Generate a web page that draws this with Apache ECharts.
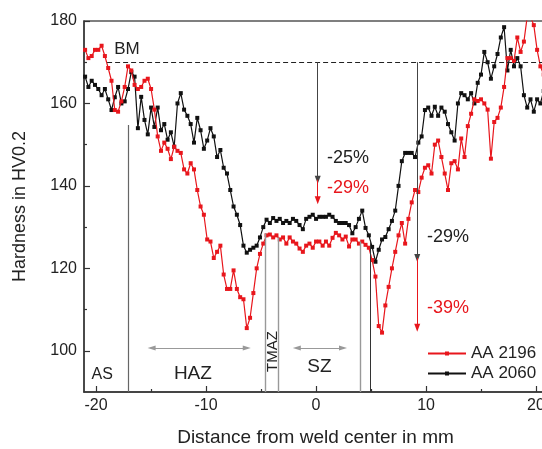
<!DOCTYPE html>
<html><head><meta charset="utf-8">
<script src="https://cdn.jsdelivr.net/npm/echarts@6/dist/echarts.min.js"></script>
<style>html,body{margin:0;padding:0;background:#fff}#c{width:542px;height:449px}</style>
</head><body><div id="c"></div>
<script>
// Distance from weld center (mm)
const distance = [
 -21.0,-20.7,-20.4,-20.1,-19.8,-19.5,-19.2,-18.9,-18.6,-18.3,
 -18.0,-17.7,-17.4,-17.1,-16.8,-16.5,-16.2,-15.9,-15.6,-15.3,
 -15.0,-14.7,-14.4,-14.1,-13.8,-13.5,-13.2,-12.9,-12.6,-12.3,
 -12.0,-11.7,-11.4,-11.1,-10.8,-10.5,-10.2,-9.9,-9.6,-9.3,
 -9.0,-8.7,-8.4,-8.1,-7.8,-7.5,-7.2,-6.9,-6.6,-6.3,
 -6.0,-5.7,-5.4,-5.1,-4.8,-4.5,-4.2,-3.9,-3.6,-3.3,
 -3.0,-2.7,-2.4,-2.1,-1.8,-1.5,-1.2,-0.9,-0.6,-0.3,
 0.0,0.3,0.6,0.9,1.2,1.5,1.8,2.1,2.4,2.7,
 3.0,3.3,3.6,3.9,4.2,4.5,4.8,5.1,5.4,5.7,
 6.0,6.3,6.6,6.9,7.2,7.5,7.8,8.1,8.4,8.7,
 9.0,9.3,9.6,9.9,10.2,10.5,10.8,11.1,11.4,11.7,
 12.0,12.3,12.6,12.9,13.2,13.5,13.8,14.1,14.4,14.7,
 15.0,15.3,15.6,15.9,16.2,16.5,16.8,17.1,17.4,17.7,
 18.0,18.3,18.6,18.9,19.2,19.5,19.8,20.1,20.4,20.7,
 21.0
];
// Hardness HV0.2, AA 2060 (black)
const aa2060 = [
 166.5,164,165.5,164.5,163.5,162,163.5,161,158.4,161.5,
 164,160,160.5,163.5,167.6,166.5,154,161.6,156,152.5,
 159,154.3,159,153.5,155,151.2,153,149.5,160,162.5,
 158.5,157,155,150.5,156.5,153.5,149,151,154,152,
 147,148.7,144.4,143,139,135,133,130.5,125.5,123.8,
 124.5,125,125.5,127.5,130,131.8,131,132.2,131.5,132,
 131,131.5,131,132,131.5,130.5,129.5,132,132.5,133,
 132,132.5,132.5,132.5,133,132.5,131.5,131,131,131,
 130.5,128.5,130,132,134,129.8,128,125.2,121.6,124.5,
 127,127.6,129.5,131.5,134,140,146,148,148,148,
 147,150.5,152,158.4,159,157,159.2,157,159,158,
 155,153,151,160,162.5,162,161,162.5,160,165,
 167,172.5,170,166,169,172,176,178.5,168,173,
 169,171,169,162,159,161,158,161,160,163,
 162
];
// Hardness HV0.2, AA 2196 (red)
const aa2196 = [
 173,171,171.5,173,173,174,171.5,168.6,165.5,158.4,
 158,160.5,164,169,168,164.5,163.5,164,165.5,166,
 163.5,158.5,152,148.5,150.5,149,146.5,149.5,148.5,148,
 144,143,145.5,144,139,135,133,127,126.5,122.5,
 124,125.5,118.5,115,115,119.5,115,113,112.5,105.5,
 108,114,120,123.5,126,128,128.2,127.5,128,127,
 127.5,126,127.5,126.5,126,124.8,124,125.5,126,125,
 126.5,126.5,125.5,126.5,125.5,127.4,128.6,128,127,127.7,
 125.3,127,127,126,126.5,125.7,125,122,118,106,
 104.4,111,115.5,120,124,128,131,126,132,136,
 139,138.5,142,144.4,145,143,150,151,147,143,
 139,145.5,146,144,151.5,147,154.5,157.5,161,160.6,
 161,160,158.5,146.6,155.5,156.5,159,164,171,171,
 170.3,176,172.5,175,181,181,179,173,169,167,
 168
];
const seriesNames = ['AA 2196', 'AA 2060'];
const xTickLabels = [-20, -10, 0, 10, 20];
const xMinorTicks = [-15, -5, 5, 15];
const yTickLabels = [100, 120, 140, 160, 180];
const yMinorTicks = [110, 130, 150, 170];
const baseMetal = 170;
const zoneBoundaries = [-17.1, -4.6, -3.4, 4.0, 4.9];
const dropPositions = [0.15, 9.2];
const dropLabels2060 = ['-25%', '-29%'];
const dropLabels2196 = ['-29%', '-39%'];

const RED = '#e8161c', BLACK = '#111111';
const FONT = '"Liberation Sans", Arial, Helvetica, sans-serif';

const chart = echarts.init(document.getElementById('c'), null, {renderer: 'canvas'});

function vline(x, y0, y1, color, width) {
  return [{coord: [x, y0], lineStyle: {color: color, width: width, type: 'solid'}}, {coord: [x, y1]}];
}

const option = {
  animation: false,
  backgroundColor: '#fff',
  textStyle: {fontFamily: FONT},
  grid: {left: 84, top: 21, right: -5, bottom: 57, show: true, borderColor: '#555', borderWidth: 1.3,
         containLabel: false, outerBoundsMode: 'none'},
  xAxis: [{
    type: 'value', min: -21.1, max: 21.0, position: 'bottom',
    name: 'Distance from weld center in mm', nameLocation: 'middle', nameGap: 36,
    nameTextStyle: {fontSize: 19, color: '#222', fontFamily: FONT},
    axisLine: {show: true, onZero: false, lineStyle: {color: '#333', width: 1.5}},
    axisTick: {show: true, inside: true, length: 6, customValues: xTickLabels, lineStyle: {color: '#333', width: 1.2}},
    axisLabel: {show: true, customValues: xTickLabels, fontSize: 16, color: '#222', margin: 6, fontFamily: FONT},
    splitLine: {show: false}
  }, {
    type: 'value', min: -21.1, max: 21.0, position: 'bottom', gridIndex: 0,
    axisLine: {show: false, onZero: false},
    axisTick: {show: true, inside: true, length: 3, customValues: xMinorTicks, lineStyle: {color: '#333', width: 1.2}},
    axisLabel: {show: false}, splitLine: {show: false}
  }],
  yAxis: [{
    type: 'value', min: 90, max: 180, position: 'left',
    name: 'Hardness in HV0.2', nameLocation: 'middle', nameGap: 55, nameRotate: 90,
    nameTextStyle: {fontSize: 18, color: '#222', fontFamily: FONT},
    axisLine: {show: true, onZero: false, lineStyle: {color: '#333', width: 1.5}},
    axisTick: {show: true, inside: true, length: 6, customValues: yTickLabels, lineStyle: {color: '#333', width: 1.2}},
    axisLabel: {show: true, customValues: yTickLabels, fontSize: 16, color: '#222', margin: 7, fontFamily: FONT},
    splitLine: {show: false}
  }, {
    type: 'value', min: 90, max: 180, position: 'left',
    axisLine: {show: false, onZero: false},
    axisTick: {show: true, inside: true, length: 3, customValues: yMinorTicks, lineStyle: {color: '#333', width: 1.2}},
    axisLabel: {show: false}, splitLine: {show: false}
  }],
  legend: {
    data: seriesNames, orient: 'vertical', left: 422, top: 340,
    itemWidth: 38, itemHeight: 5, itemGap: 3,
    textStyle: {fontSize: 17, color: '#222', fontFamily: FONT, lineHeight: 16}
  },
  series: [
    {
      name: 'annotLines', type: 'line', data: [], silent: true,
      markLine: {
        silent: true, animation: false, symbol: ['none', 'none'], label: {show: false},
        data: [
          vline(zoneBoundaries[0], 90, 154.8, '#666', 1.2),
          vline(zoneBoundaries[1], 90, 128.5, '#999', 1.4),
          vline(zoneBoundaries[2], 90, 127.5, '#999', 1.4),
          vline(zoneBoundaries[3], 90, 126.5, '#999', 1.4),
          vline(zoneBoundaries[4], 90, 126.5, '#333', 1.0),
          [{coord: [-19.0, baseMetal], lineStyle: {color: '#222', width: 1, type: [5, 3]}}, {coord: [21.0, baseMetal]}]
        ]
      }
    },
    {
      name: 'AA 2060', type: 'line', color: BLACK,
      data: distance.map((d, i) => [d, aa2060[i]]),
      symbol: 'rect', symbolSize: 4, showSymbol: true, showAllSymbol: true,
      lineStyle: {color: BLACK, width: 1.2}, itemStyle: {color: BLACK},
      clip: true, z: 3
    },
    {
      name: 'AA 2196', type: 'line', color: RED,
      data: distance.map((d, i) => [d, aa2196[i]]),
      symbol: 'rect', symbolSize: 4, showSymbol: true, showAllSymbol: true,
      lineStyle: {color: RED, width: 1.2}, itemStyle: {color: RED},
      clip: true, z: 4
    },
    {
      name: 'arrowsBlack', type: 'line', data: [], silent: true,
      markLine: {
        silent: true, animation: false, symbol: ['none', 'triangle'], symbolSize: [6, 8], label: {show: false},
        lineStyle: {color: '#444', width: 1, type: 'solid'}, itemStyle: {color: '#222'},
        data: [
          [{coord: [dropPositions[0], baseMetal]}, {coord: [dropPositions[0], 141.5]}],
          [{coord: [dropPositions[1], baseMetal]}, {coord: [dropPositions[1], 122.5]}]
        ]
      }
    },
    {
      name: 'arrowsRed', type: 'line', data: [], silent: true,
      markLine: {
        silent: true, animation: false, symbol: ['none', 'triangle'], symbolSize: [6, 8], label: {show: false},
        lineStyle: {color: RED, width: 1, type: 'solid'}, itemStyle: {color: RED},
        data: [
          [{coord: [dropPositions[0], 141.5]}, {coord: [dropPositions[0], 136.5]}],
          [{coord: [dropPositions[1], 122.5]}, {coord: [dropPositions[1], 105.6]}]
        ]
      }
    },
    {
      name: 'spans', type: 'line', data: [], silent: true,
      markLine: {
        silent: true, animation: false, symbol: ['triangle', 'triangle'], symbolSize: [5, 8], label: {show: false},
        lineStyle: {color: '#999', width: 1.2, type: 'solid'}, itemStyle: {color: '#333'},
        data: [
          [{coord: [-14.95, 100.7]}, {coord: [-6.3, 100.7]}],
          [{coord: [-1.75, 100.7]}, {coord: [2.45, 100.7]}]
        ]
      }
    }
  ]
};
chart.setOption(option);

function px(x, y) { return chart.convertToPixel({gridIndex: 0}, [x, y]); }
function label(text, x, y, size, color, rotation) {
  const p = px(x, y);
  return {
    type: 'text', x: p[0], y: p[1], rotation: rotation || 0, z: 100,
    style: {text: text, fill: color, font: size + 'px ' + FONT, textAlign: 'center', textVerticalAlign: 'middle'}
  };
}
chart.setOption({
  graphic: [
    label('BM', -17.2, 173.2, 17, '#222'),
    label('AS', -19.45, 94.2, 16, '#222'),
    label('HAZ', -11.2, 94.4, 19, '#222'),
    label('TMAZ', -3.95, 99.8, 15, '#222', Math.PI / 2),
    label('SZ', 0.3, 96.1, 19, '#222'),
    label(dropLabels2060[0], 2.9, 146.8, 18, '#222'),
    label(dropLabels2196[0], 2.9, 139.5, 18, RED),
    label(dropLabels2060[1], 12.0, 127.6, 18, '#222'),
    label(dropLabels2196[1], 12.0, 110.4, 18, RED)
  ]
});
</script></body></html>
